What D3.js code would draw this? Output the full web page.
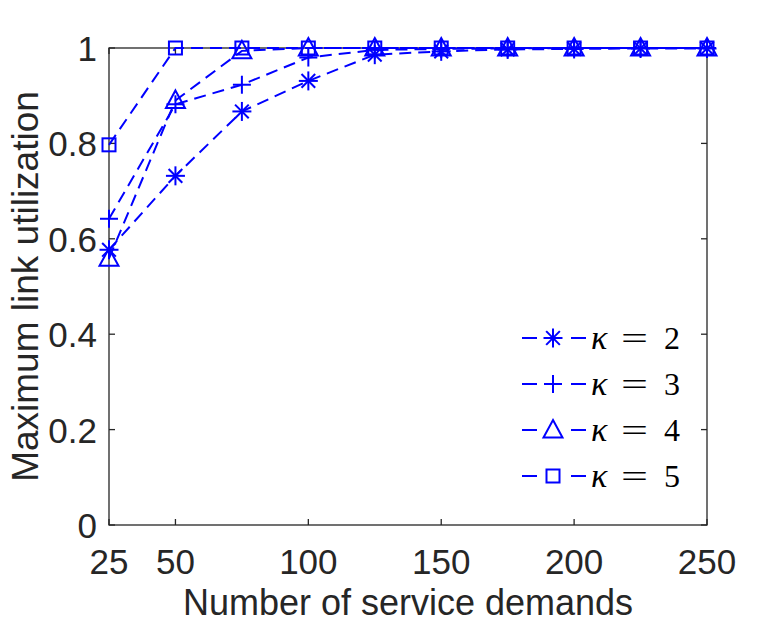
<!DOCTYPE html>
<html lang="en">
<head>
    <meta charset="UTF-8">
    <title>Maximum link utilization</title>
    <script src="https://d3js.org/d3.v7.min.js"></script>
    <style>
        body { margin: 0; background: #fff; }
        svg { display: block; }
        .tick-label { font-family: "Liberation Sans", Arial, sans-serif; font-size: 35px; fill: #262626; }
        .axis-title { font-family: "Liberation Sans", Arial, sans-serif; font-size: 36px; fill: #262626; }
        .legend-text { font-family: "Liberation Serif", "DejaVu Serif", serif; font-size: 32px; fill: #000; }
    </style>
</head>
<body>
    <script>
        // data
        const demands = [25, 50, 75, 100, 125, 150, 175, 200, 225, 250];
        const kappa2 = [0.577, 0.732, 0.867, 0.931, 0.986, 0.993, 0.997, 0.998, 0.999, 0.999];
        const kappa3 = [0.642, 0.882, 0.923, 0.980, 0.996, 0.998, 0.999, 1, 1, 1];
        const kappa4 = [0.559, 0.890, 0.994, 1, 1, 1, 1, 1, 1, 1];
        const kappa5 = [0.797, 1, 1, 1, 1, 1, 1, 1, 1, 1];
        const seriesNames = ["2", "3", "4", "5"];
        const seriesMarkers = ["asterisk", "plus", "triangle", "square"];
        const xTicks = [25, 50, 100, 150, 200, 250];
        const yTicks = [0, 0.2, 0.4, 0.6, 0.8, 1];

        const W = 782, H = 625;
        const mLeft = 109, mRight = 707, mTop = 48, mBottom = 525;
        const blue = "#0000ff", axisColor = "#262626";
        const lw = 2;

        const svg = d3.select("body").append("svg")
            .attr("width", W).attr("height", H);

        const x = d3.scaleLinear().domain([25, 250]).range([mLeft, mRight]);
        const y = d3.scaleLinear().domain([0, 1]).range([mBottom, mTop]);

        const allSeries = [kappa2, kappa3, kappa4, kappa5];

        // marker shapes
        function drawMarker(g, type, cx, cy) {
            const m = g.append("g").attr("transform", `translate(${cx},${cy})`)
                .attr("stroke", blue).attr("stroke-width", lw).attr("fill", "none");
            if (type === "asterisk") {
                const r = 9.5;
                m.append("line").attr("x1", -r).attr("x2", r).attr("y1", 0).attr("y2", 0);
                m.append("line").attr("x1", 0).attr("x2", 0).attr("y1", -r).attr("y2", r);
                const d = r * 0.72;
                m.append("line").attr("x1", -d).attr("x2", d).attr("y1", -d).attr("y2", d);
                m.append("line").attr("x1", -d).attr("x2", d).attr("y1", d).attr("y2", -d);
            } else if (type === "plus") {
                const r = 9;
                m.append("line").attr("x1", -r).attr("x2", r).attr("y1", 0).attr("y2", 0);
                m.append("line").attr("x1", 0).attr("x2", 0).attr("y1", -r).attr("y2", r);
            } else if (type === "triangle") {
                m.append("path").attr("d", "M0,-10L9.5,7.5L-9.5,7.5Z");
            } else {
                m.append("rect").attr("x", -6.5).attr("y", -6.5).attr("width", 13).attr("height", 13);
            }
        }

        // axes box
        svg.append("rect")
            .attr("x", mLeft).attr("y", mTop)
            .attr("width", mRight - mLeft).attr("height", mBottom - mTop)
            .attr("fill", "none").attr("stroke", axisColor).attr("stroke-width", 1.3);

        // ticks (inside, mirrored)
        const tl = 6;
        xTicks.forEach(t => {
            svg.append("line").attr("x1", x(t)).attr("x2", x(t)).attr("y1", mBottom).attr("y2", mBottom - tl)
                .attr("stroke", axisColor).attr("stroke-width", 1.3);
            svg.append("line").attr("x1", x(t)).attr("x2", x(t)).attr("y1", mTop).attr("y2", mTop + tl)
                .attr("stroke", axisColor).attr("stroke-width", 1.3);
            svg.append("text").attr("class", "tick-label")
                .attr("x", x(t)).attr("y", 574).attr("text-anchor", "middle")
                .text(t);
        });
        yTicks.forEach(t => {
            svg.append("line").attr("x1", mLeft).attr("x2", mLeft + tl).attr("y1", y(t)).attr("y2", y(t))
                .attr("stroke", axisColor).attr("stroke-width", 1.3);
            svg.append("line").attr("x1", mRight).attr("x2", mRight - tl).attr("y1", y(t)).attr("y2", y(t))
                .attr("stroke", axisColor).attr("stroke-width", 1.3);
            svg.append("text").attr("class", "tick-label")
                .attr("x", 97).attr("y", y(t) + 13).attr("text-anchor", "end")
                .text(d3.format("~g")(t));
        });

        // axis titles
        svg.append("text").attr("class", "axis-title")
            .attr("x", (mLeft + mRight) / 2).attr("y", 615).attr("text-anchor", "middle")
            .text("Number of service demands");
        svg.append("text").attr("class", "axis-title")
            .attr("transform", `translate(38,${(mTop + mBottom) / 2}) rotate(-90)`)
            .attr("text-anchor", "middle")
            .style("font-size", "37px")
            .text("Maximum link utilization");

        // series
        const line = d3.line().x((d, i) => x(demands[i])).y(d => y(d));
        allSeries.forEach((vals, si) => {
            svg.append("path").datum(vals)
                .attr("d", line)
                .attr("fill", "none").attr("stroke", blue).attr("stroke-width", lw)
                .attr("stroke-dasharray", "12,7");
            vals.forEach((v, i) => drawMarker(svg, seriesMarkers[si], x(demands[i]), y(v)));
        });

        // legend
        const legendY = [338, 384, 430, 476];
        seriesNames.forEach((name, si) => {
            const ly = legendY[si];
            svg.append("line").attr("x1", 522).attr("x2", 537).attr("y1", ly).attr("y2", ly)
                .attr("stroke", blue).attr("stroke-width", lw);
            svg.append("line").attr("x1", 571).attr("x2", 586).attr("y1", ly).attr("y2", ly)
                .attr("stroke", blue).attr("stroke-width", lw);
            drawMarker(svg, seriesMarkers[si], 553, ly);
            svg.append("text").attr("class", "legend-text")
                .attr("x", 591).attr("y", ly + 11)
                .style("font-style", "italic").style("font-size", "34px")
                .text("κ");
            svg.append("text").attr("class", "legend-text")
                .attr("x", 621).attr("y", ly + 11)
                .attr("textLength", 27).attr("lengthAdjust", "spacingAndGlyphs")
                .text("=");
            svg.append("text").attr("class", "legend-text")
                .attr("x", 664).attr("y", ly + 11)
                .text(name);
        });
    </script>
</body>
</html>
